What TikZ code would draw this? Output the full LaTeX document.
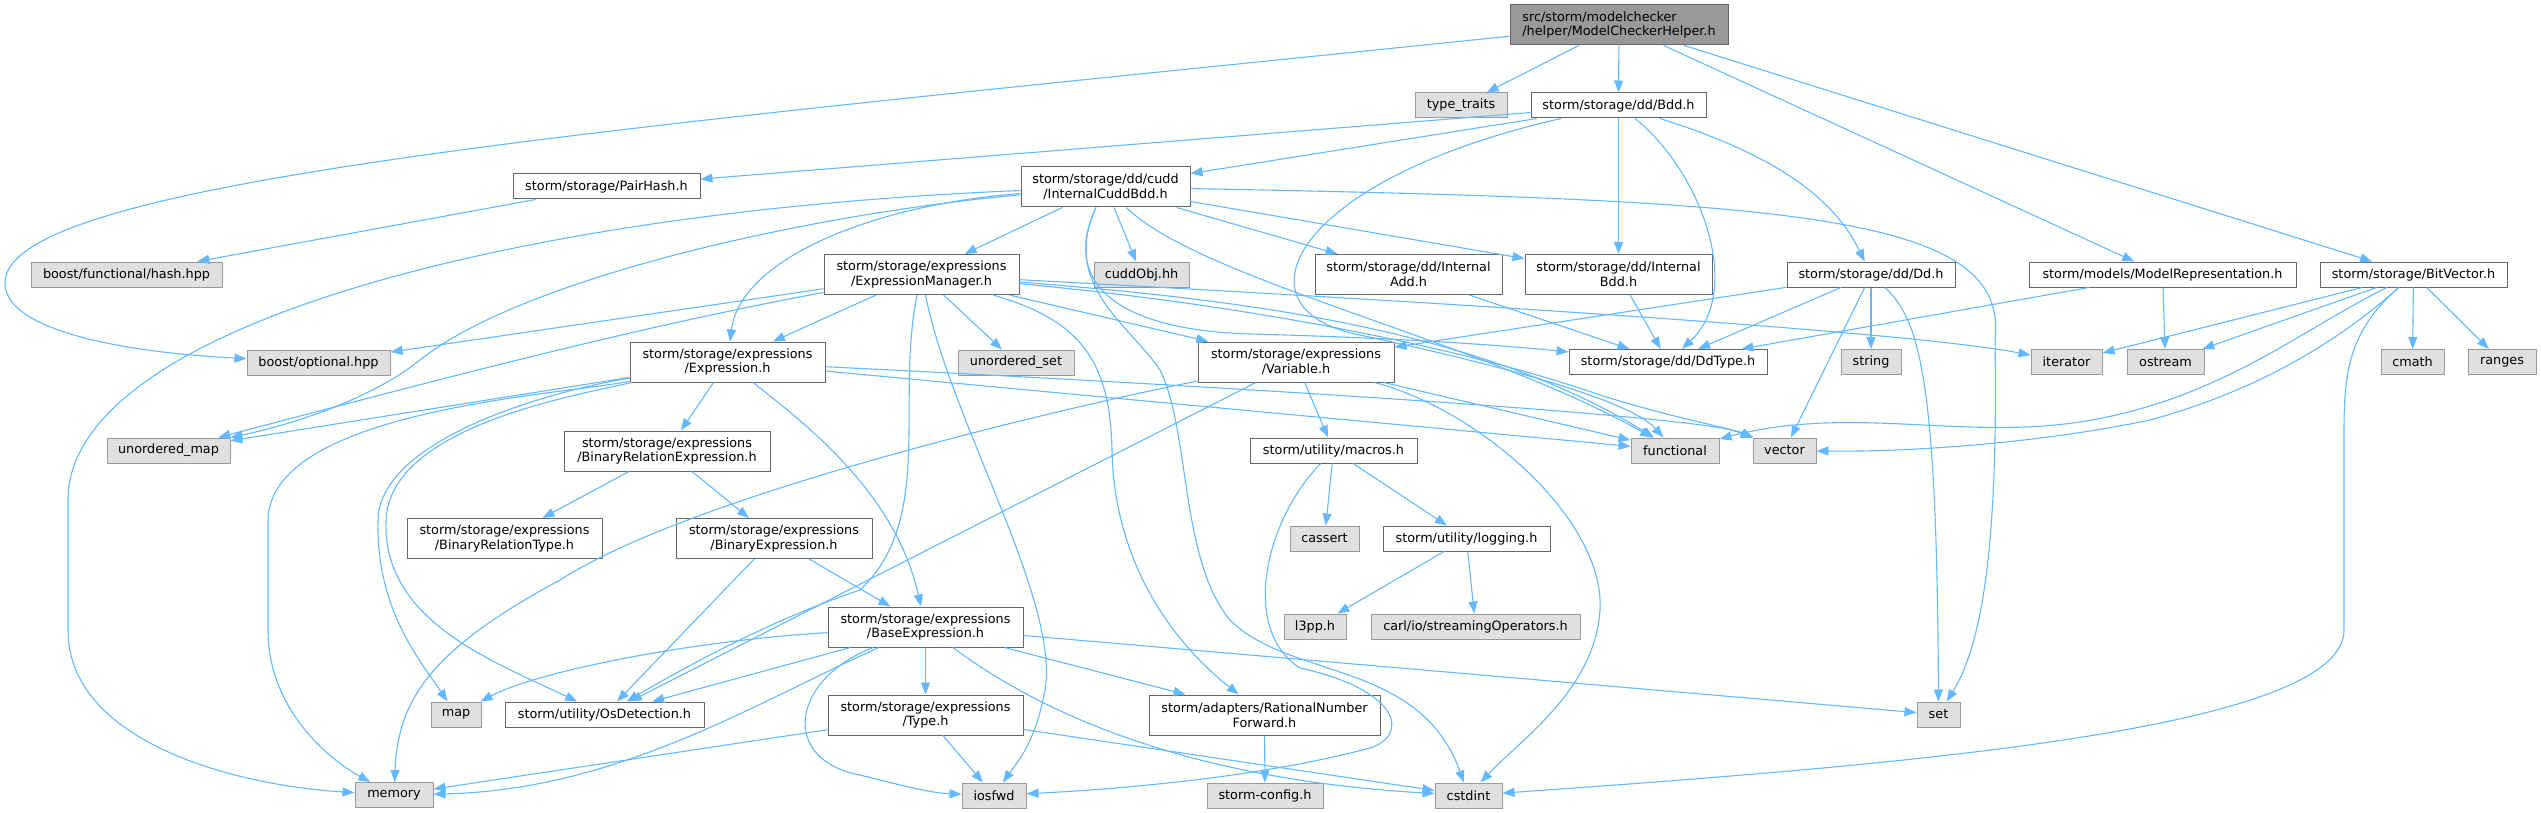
\documentclass[tikz,border=0pt]{standalone}
\usepackage{fontspec}
\setmainfont{DejaVu Sans}
\usetikzlibrary{arrows.meta}
\definecolor{edgec}{HTML}{63B8FF}
\definecolor{bord}{HTML}{666666}
\definecolor{extbord}{HTML}{999999}
\definecolor{extfill}{HTML}{E0E0E0}
\definecolor{topfill}{HTML}{999999}
\tikzset{
  nd/.style={draw=bord, fill=white, line width=1pt, inner sep=1pt, align=center, text=black, font=\fontsize{12.8}{14.6}\selectfont},
  ext/.style={nd, draw=extbord, fill=extfill},
  topn/.style={nd, draw=bord, fill=topfill, align=left},
  sz/.style 2 args={minimum width=#1, minimum height=#2},
  edg/.style={draw=edgec, line width=1.1pt, -{Triangle[length=12pt,width=9pt]}},
}
\begin{document}
\begin{tikzpicture}[x=1pt,y=-1pt]
\useasboundingbox (0,0) rectangle (2541,813);
% nodes
\node[topn, sz={218pt}{40pt}] (top) at (1619,25) {src/storm/modelchecker\\/helper/ModelCheckerHelper.h};
\node[ext, sz={92pt}{25pt}] (tt) at (1461,105.5) {type\_traits};
\node[nd, sz={175pt}{25pt}] (bdd) at (1618.5,105.5) {storm/storage/dd/Bdd.h};
\node[nd, sz={187pt}{25pt}] (ph) at (606.5,186.5) {storm/storage/PairHash.h};
\node[nd, sz={169pt}{40pt}] (icb) at (1105.5,187) {storm/storage/dd/cudd\\/InternalCuddBdd.h};
\node[ext, sz={191pt}{25pt}] (hash) at (126.5,274.5) {boost/functional/hash.hpp};
\node[nd, sz={195pt}{40pt}] (em) at (921.5,274.5) {storm/storage/expressions\\/ExpressionManager.h};
\node[ext, sz={95pt}{25pt}] (cudd) at (1141.5,274.5) {cuddObj.hh};
\node[nd, sz={187pt}{40pt}] (iadd) at (1408.5,274.5) {storm/storage/dd/Internal\\Add.h};
\node[nd, sz={187pt}{40pt}] (ibdd) at (1618.5,274.5) {storm/storage/dd/Internal\\Bdd.h};
\node[nd, sz={168pt}{25pt}] (dd) at (1871,274.5) {storm/storage/dd/Dd.h};
\node[nd, sz={267pt}{25pt}] (mrep) at (2162.5,274.5) {storm/models/ModelRepresentation.h};
\node[nd, sz={187pt}{25pt}] (bv) at (2413.5,274.5) {storm/storage/BitVector.h};
\node[ext, sz={143pt}{25pt}] (opt) at (318.5,362.5) {boost/optional.hpp};
\node[nd, sz={195pt}{40pt}] (expr) at (727.5,362) {storm/storage/expressions\\/Expression.h};
\node[ext, sz={116pt}{25pt}] (uset) at (1016,362.5) {unordered\_set};
\node[nd, sz={196pt}{40pt}] (var) at (1296,362) {storm/storage/expressions\\/Variable.h};
\node[nd, sz={198pt}{25pt}] (ddt) at (1668,362) {storm/storage/dd/DdType.h};
\node[ext, sz={60pt}{25pt}] (str) at (1871,362) {string};
\node[ext, sz={71pt}{25pt}] (iter) at (2066.5,362) {iterator};
\node[ext, sz={77pt}{25pt}] (ostr) at (2165.5,362) {ostream};
\node[ext, sz={63pt}{25pt}] (cmath) at (2412.5,362) {cmath};
\node[ext, sz={68pt}{25pt}] (rng) at (2502,362) {ranges};
\node[ext, sz={123pt}{25pt}] (umap) at (168.5,450.5) {unordered\_map};
\node[ext, sz={88pt}{25pt}] (func) at (1675,450.5) {functional};
\node[ext, sz={63pt}{25pt}] (vec) at (1784.5,450.5) {vector};
\node[nd, sz={167pt}{25pt}] (mac) at (1333.5,450.5) {storm/utility/macros.h};
\node[nd, sz={206pt}{40pt}] (bre) at (667,451) {storm/storage/expressions\\/BinaryRelationExpression.h};
\node[nd, sz={195pt}{40pt}] (brt) at (504.5,538.5) {storm/storage/expressions\\/BinaryRelationType.h};
\node[nd, sz={196pt}{40pt}] (be) at (774,538.5) {storm/storage/expressions\\/BinaryExpression.h};
\node[ext, sz={69pt}{25pt}] (cass) at (1324.5,538.5) {cassert};
\node[nd, sz={167pt}{25pt}] (logg) at (1466.5,538.5) {storm/utility/logging.h};
\node[nd, sz={195pt}{40pt}] (base) at (925.5,627) {storm/storage/expressions\\/BaseExpression.h};
\node[ext, sz={62pt}{25pt}] (l3pp) at (1315,626.5) {l3pp.h};
\node[ext, sz={209pt}{25pt}] (stream) at (1475.5,626.5) {carl/io/streamingOperators.h};
\node[ext, sz={50pt}{25pt}] (map) at (456,714.5) {map};
\node[nd, sz={199pt}{25pt}] (osd) at (604.5,714.5) {storm/utility/OsDetection.h};
\node[nd, sz={195pt}{40pt}] (type) at (925.5,715) {storm/storage/expressions\\/Type.h};
\node[nd, sz={231pt}{40pt}] (rnf) at (1264.5,715) {storm/adapters/RationalNumber\\Forward.h};
\node[ext, sz={43pt}{25pt}] (set) at (1938.5,714.5) {set};
\node[ext, sz={78pt}{25pt}] (mem) at (394,795) {memory};
\node[ext, sz={64pt}{25pt}] (iosfwd) at (994,795.5) {iosfwd};
\node[ext, sz={116pt}{25pt}] (cfg) at (1265,795.5) {storm-config.h};
\node[ext, sz={67pt}{25pt}] (cstd) at (1468.5,795.5) {cstdint};
% edges from top
\draw[edg] (top) .. controls (600,130) and (5,180) .. (5,283) .. controls (5,330) and (120,352) .. (opt);
\draw[edg] (top) -- (tt);
\draw[edg] (top) -- (bdd);
\draw[edg] (top) -- (mrep);
\draw[edg] (top) -- (bv);
% Bdd
\draw[edg] (bdd) -- (ph);
\draw[edg] (bdd) -- (icb);
\draw[edg] (bdd) .. controls (1290,180) and (1230,310) .. (1360,335) .. controls (1500,365) and (1630,400) .. (func);
\draw[edg] (bdd) -- (ibdd);
\draw[edg] (bdd) .. controls (1700,170) and (1745,290) .. (ddt);
\draw[edg] (bdd) .. controls (1760,150) and (1830,190) .. (dd);
% PairHash
\draw[edg] (ph) -- (hash);
% InternalCuddBdd
\draw[edg] (icb) -- (em);
\draw[edg] (icb) -- (cudd);
\draw[edg] (icb) -- (iadd);
\draw[edg] (icb) -- (ibdd);
\draw[edg] (icb) .. controls (1800,200) and (2010,215) .. (1995,340) .. controls (1998,530) and (1985,640) .. (set);
\draw[edg] (icb) .. controls (870,205) and (740,260) .. (expr);
\draw[edg] (icb) .. controls (800,215) and (520,280) .. (420,360) .. controls (370,400) and (290,425) .. (umap);
\draw[edg] (icb) .. controls (500,212) and (68,330) .. (68,500) -- (68,630) .. controls (68,740) and (230,785) .. (mem);
\draw[edg] (icb) .. controls (1060,285) and (1120,330) .. (1250,334) .. controls (1400,338) and (1500,345) .. (ddt);
\draw[edg] (icb) .. controls (1200,280) and (1480,340) .. (func);
\draw[edg] (icb) .. controls (1060,285) and (1130,325) .. (1160,370) .. controls (1190,430) and (1180,560) .. (1230,620) .. controls (1290,680) and (1420,660) .. (cstd);
% Internal Add / Bdd
\draw[edg] (iadd) -- (ddt);
\draw[edg] (ibdd) -- (ddt);
% ExpressionManager
\draw[edg] (em) -- (opt);
\draw[edg] (em) .. controls (620,330) and (400,390) .. (umap);
\draw[edg] (em) -- (expr);
\draw[edg] (em) -- (uset);
\draw[edg] (em) .. controls (895,400) and (935,520) .. (860,590) .. controls (770,620) and (680,670) .. (osd);
\draw[edg] (em) .. controls (950,420) and (1060,600) .. (1045,690) .. controls (1035,745) and (1015,765) .. (iosfwd);
\draw[edg] (em) .. controls (1080,320) and (1110,360) .. (1112,450) .. controls (1114,560) and (1170,640) .. (rnf);
\draw[edg] (em) -- (var);
\draw[edg] (em) .. controls (1400,300) and (1900,330) .. (iter);
\draw[edg] (em) .. controls (1250,300) and (1480,330) .. (func);
\draw[edg] (em) .. controls (1300,310) and (1500,360) .. (1600,395) .. controls (1680,420) and (1720,425) .. (vec);
% Expression
\draw[edg] (expr) -- (umap);
\draw[edg] (expr) .. controls (560,395) and (270,410) .. (268,520) -- (268,630) .. controls (268,710) and (330,760) .. (mem);
\draw[edg] (expr) .. controls (545,392) and (380,440) .. (378,520) .. controls (376,610) and (420,660) .. (map);
\draw[edg] (expr) .. controls (560,398) and (390,430) .. (386,520) .. controls (382,620) and (490,660) .. (osd);
\draw[edg] (expr) -- (bre);
\draw[edg] (expr) .. controls (800,420) and (895,490) .. (base);
\draw[edg] (expr) -- (func);
\draw[edg] (expr) .. controls (1200,385) and (1700,415) .. (vec);
% Variable
\draw[edg] (var) .. controls (1100,400) and (700,490) .. (560,580) .. controls (430,650) and (398,700) .. (mem);
\draw[edg] (var) -- (osd);
\draw[edg] (var) -- (mac);
\draw[edg] (var) -- (func);
\draw[edg] (var) .. controls (1480,410) and (1605,520) .. (1600,610) .. controls (1595,690) and (1520,740) .. (cstd);
% Dd
\draw[edg] (dd) -- (var);
\draw[edg] (dd) -- (ddt);
\draw[edg] (dd) -- (str);
\draw[edg] (dd) -- (vec);
\draw[edg] (dd) .. controls (1920,320) and (1937,380) .. (set);
% ModelRepresentation
\draw[edg] (mrep) -- (ddt);
\draw[edg] (mrep) -- (ostr);
% BitVector
\draw[edg] (bv) -- (iter);
\draw[edg] (bv) -- (ostr);
\draw[edg] (bv) .. controls (2300,330) and (2220,400) .. (2080,422) .. controls (1960,440) and (1850,405) .. (func);
\draw[edg] (bv) .. controls (2340,340) and (2260,390) .. (2150,420) .. controls (2030,445) and (1900,452) .. (vec);
\draw[edg] (bv) .. controls (2350,330) and (2344,370) .. (2344,430) -- (2344,630) .. controls (2344,730) and (1900,765) .. (cstd);
\draw[edg] (bv) -- (cmath);
\draw[edg] (bv) -- (rng);
% macros, logging
\draw[edg] (mac) -- (cass);
\draw[edg] (mac) -- (logg);
\draw[edg] (mac) .. controls (1265,520) and (1240,630) .. (1300,668) .. controls (1400,690) and (1410,735) .. (1370,748) .. controls (1250,780) and (1100,790) .. (iosfwd);
\draw[edg] (logg) -- (l3pp);
\draw[edg] (logg) -- (stream);
% binary
\draw[edg] (bre) -- (brt);
\draw[edg] (bre) -- (be);
\draw[edg] (be) -- (osd);
\draw[edg] (be) -- (base);
% BaseExpression
\draw[edg] (base) .. controls (700,640) and (540,670) .. (map);
\draw[edg] (base) -- (osd);
\draw[edg] (base) .. controls (760,700) and (620,790) .. (mem);
\draw[edg] (base) -- (type);
\draw[edg] (base) -- (rnf);
\draw[edg] (base) .. controls (790,680) and (780,760) .. (860,775) .. controls (900,785) and (930,793) .. (iosfwd);
\draw[edg] (base) -- (set);
\draw[edg] (base) .. controls (1050,720) and (1200,780) .. (cstd);
% Type
\draw[edg] (type) -- (mem);
\draw[edg] (type) -- (iosfwd);
\draw[edg] (type) -- (cstd);
% RationalNumberForward
\draw[edg] (rnf) -- (cfg);
\end{tikzpicture}
\end{document}
